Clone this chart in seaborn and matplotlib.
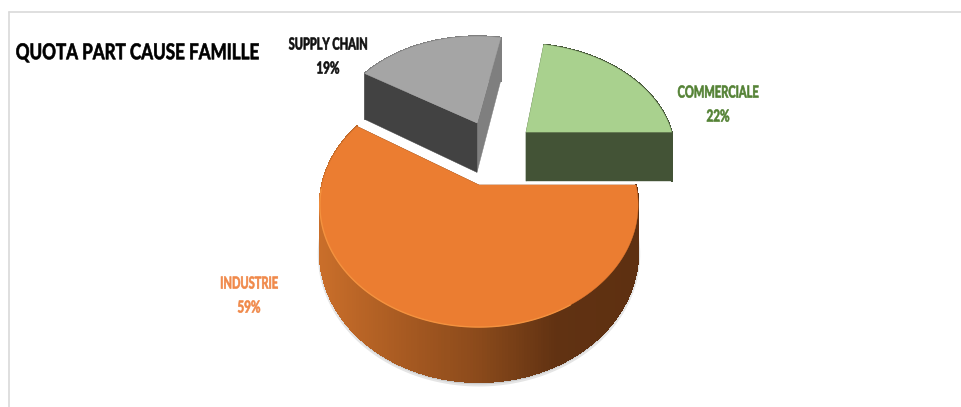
import numpy as np
import matplotlib
matplotlib.use("Agg")
import matplotlib.pyplot as plt
from matplotlib.collections import PolyCollection
from matplotlib.patheffects import AbstractPathEffect
from matplotlib.transforms import Affine2D
import seaborn as sns

# Chart content
title = "QUOTA PART CAUSE FAMILLE"
categories = ["COMMERCIALE", "SUPPLY CHAIN", "INDUSTRIE"]
shares = [22, 19, 59]
label_colors = ["#548235", "#111111", "#F0894A"]
label_centres = [(718, 93), (328, 45), (249, 284)]

# Slice styling
top_colors = ["#A9D18E", "#A5A5A5", "#EB7D31"]
wall_colors = [("#435336", "#435336"), ("#7F7F7F", "#424242"), ("#5E3011", "#5E3011")]
offsets = [(0.323, 0.48), (-0.014, 0.57), (0.0, 0.0)]
depths = [53, 54, 46]
side_stops = ["#C96E2A", "#A95B22", "#8B4A1B", "#613212", "#5E3011"]

# Perspective of the pie plane, in pixel units of the axes
CX, CY, RX, RY, PERSP = 479, 185, 157, 118.9, 0.163

sns.set_theme(style="white")
plt.rcParams["font.family"] = ["Lato", "DejaVu Sans"]


class Condensed(AbstractPathEffect):
    """Narrow and heighten the glyphs of a text around its centre, with a slight embolden."""

    def __init__(self, centre_px, factor, stretch=1.14, weight=0.45):
        super().__init__()
        self.centre_px = centre_px
        self.factor = factor
        self.stretch = stretch
        self.weight = weight

    def draw_path(self, renderer, gc, tpath, affine, rgbFace=None):
        cx, cy = self.centre_px
        squeeze = Affine2D().translate(-cx, -cy).scale(self.factor, self.stretch).translate(cx, cy)
        stroke = gc.__class__()
        stroke.copy_properties(gc)
        stroke.set_foreground(rgbFace)
        stroke.set_linewidth(self.weight)
        renderer.draw_path(stroke, tpath, affine + squeeze, rgbFace)
        stroke.restore()


def project(x, y, z=0.0):
    """Map plane coordinates (unit circle) and a drop z to the axes."""
    w = 1 + PERSP * y
    return CX + RX * x / w, CY - (RY * y - z) / w


def rim(t0, t1, n):
    t = np.radians(np.linspace(t0, t1, n))
    return np.cos(t), np.sin(t)


fig = plt.figure(figsize=(9.62, 4.07), dpi=100, facecolor="white")
ax = fig.add_axes([0, 0, 1, 1])
ax.set_xlim(0, 962)
ax.set_ylim(407, 0)
ax.axis("off")


def narrow_text(x, y, text, factor, **kwargs):
    centre_px = ax.transData.transform((x, y))
    return ax.text(x, y, text, ha="center", va="center", fontweight="bold", zorder=30,
                   path_effects=[Condensed(centre_px, factor)], **kwargs)


# Frame of the chart area: only its top and left edges are in view
ax.plot([9, 962], [12, 12], color="#D9D9D9", lw=1.2, zorder=1)
ax.plot([9, 9], [12, 407], color="#D9D9D9", lw=1.2, zorder=1)

angles = np.cumsum([0] + [s * 3.6 for s in shares])
side_palette = sns.blend_palette(side_stops, n_colors=256)
order = [1, 0, 2]  # far slices first

for z, i in enumerate(order):
    t0, t1 = angles[i], angles[i + 1]
    ox, oy = offsets[i]
    d = depths[i]
    base = 10 + 3 * z
    cx, cy = rim(t0, t1, 240)
    px, py = ox + cx, oy + cy

    # Soft contact shadow under the outer edge
    if i == 2:
        sx, sy = project(px, py, d + 2)
        ax.fill(sx, sy, color="#000000", alpha=0.10, lw=3, zorder=base - 1)

    # Curved outer side, shaded left to right
    tx, ty = project(px, py)
    bx, by = project(px, py, d)
    quads = [
        [(tx[k], ty[k]), (tx[k + 1], ty[k + 1]), (bx[k + 1], by[k + 1]), (bx[k], by[k])]
        for k in range(len(tx) - 1)
    ]
    xmin, xmax = project(-1, 0)[0], project(1, 0)[0]
    pos = np.clip(((tx[:-1] + tx[1:]) / 2 - xmin) / (xmax - xmin), 0, 0.999)
    if i == 2:
        cols = [side_palette[int(p * 256)] for p in pos]
    else:
        cols = [wall_colors[i][0]] * len(quads)
    ax.add_collection(
        PolyCollection(quads, facecolors=cols, edgecolors=cols, lw=0.8, antialiaseds=False, zorder=base)
    )

    # Flat cut faces running from the apex to the rim
    for (ex, ey), col in zip([(px[0], py[0]), (px[-1], py[-1])], wall_colors[i]):
        a0 = project(ox, oy)
        a1 = project(ex, ey)
        a2 = project(ex, ey, d)
        a3 = project(ox, oy, d)
        ax.fill(*zip(a0, a1, a2, a3), color=col, lw=0.3, zorder=base + 1)

    # Top face
    fx = np.concatenate([[ox], px])
    fy = np.concatenate([[oy], py])
    ax.fill(*project(fx, fy), color=top_colors[i], lw=0.3, zorder=base + 2)
    if i == 2:
        ex, ey = rim(182, 300, 100)
        ax.plot(*project(ox + ex, oy + ey), color="#F4923F", lw=1.0, zorder=base + 2)

# Slice labels
for name, share, col, (lx, ly) in zip(categories, shares, label_colors, label_centres):
    narrow_text(lx, ly, name, 0.76, color=col, fontsize=10.5)
    narrow_text(lx, ly + 24, f"{share}%", 0.8, color=col, fontsize=10.5)

narrow_text(137, 53, title, 0.89, color="black", fontsize=13.8)

fig.savefig("out.png", dpi=100, facecolor="white")
